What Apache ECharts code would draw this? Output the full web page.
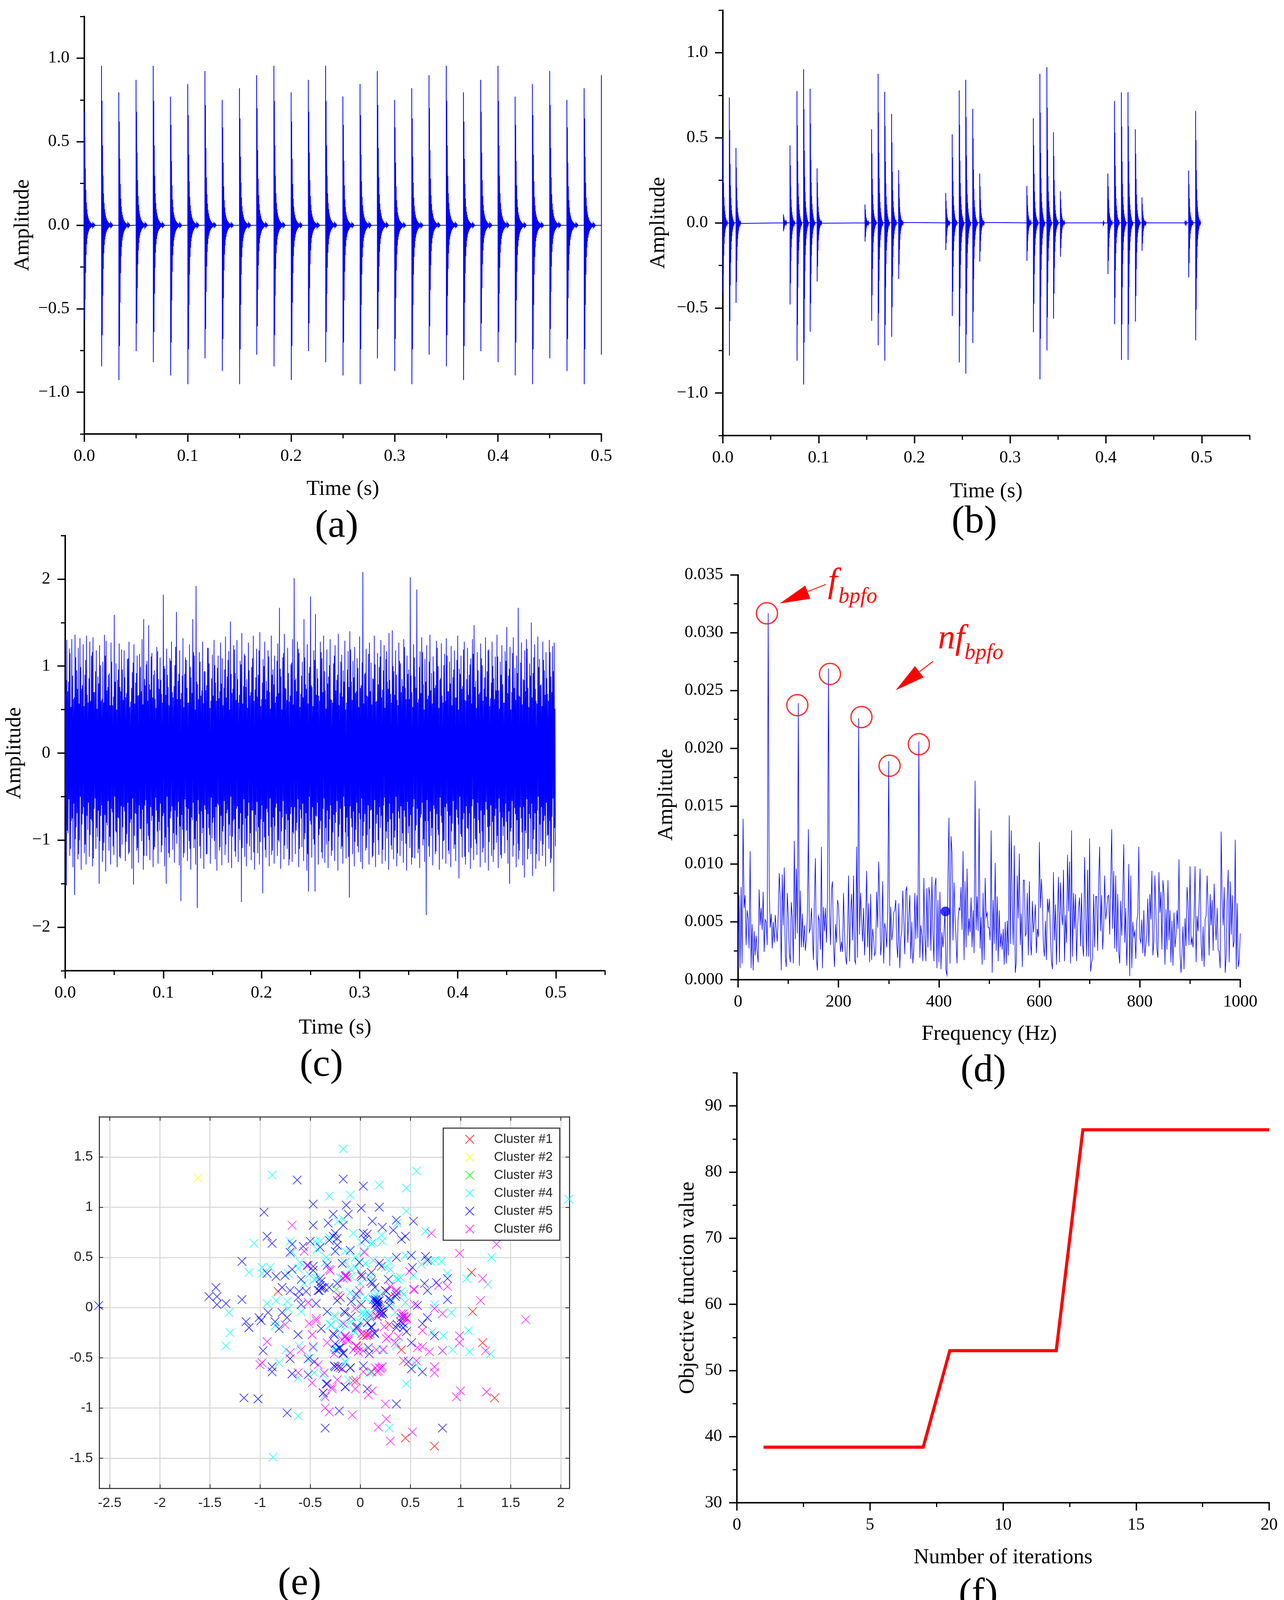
<!DOCTYPE html>
<html><head><meta charset="utf-8">
<style>html,body{margin:0;padding:0;background:#fff}#c{width:3288px;height:4150px}</style>
<script src="https://cdn.jsdelivr.net/npm/echarts@6/dist/echarts.min.js"></script>
</head><body><div id="c"></div>
<script>
// ---------- panel (a): impulses ----------
const aPulseTimes=[0,.0166,.0333,.05,.0666,.0833,.1,.1166,.1333,.15,.1666,.1833,.2,.2166,.2333,.25,.2666,.2833,.3,.3166,.3333,.35,.3666,.3833,.4,.4166,.4333,.45,.4666,.4833,.5];
const aPeakTop=[.68,.954,.795,.87,.954,.77,.845,.923,.75,.82,.898,.954,.795,.87,.954,.77,.845,.923,.75,.82,.898,.954,.795,.87,.954,.77,.845,.923,.75,.82,.898];
const aPeakBottom=[-.57,-.845,-.927,-.754,-.82,-.9,-.952,-.797,-.873,-.952,-.775,-.845,-.927,-.754,-.82,-.9,-.952,-.797,-.873,-.952,-.775,-.845,-.927,-.754,-.82,-.9,-.952,-.797,-.873,-.952,-.775];
const aEnvelope=[1,.78,.5,.31,.2,.14,.1,.078,.06,.047,.037,.03,.024,.019,.015,.012,.01,.008,.006,.005,.004,.003,.002,.001];
// ---------- panel (b) ----------
const bPulseTimes=[0,.0068,.0137,.0633,.0701,.0774,.0843,.0911,.0984,.1484,.1553,.1621,.169,.1762,.1835,.2327,.2395,.2468,.2536,.2609,.2682,.3174,.3242,.331,.3383,.3452,.3524,.397,.402,.4089,.4161,.423,.4307,.4376,.4825,.4863,.4936];
const bPeakTop=[.5,.737,.44,.05,.455,.774,.903,.788,.32,.108,.55,.876,.77,.64,.31,.176,.52,.778,.84,.67,.29,.217,.614,.876,.915,.532,.186,.006,.29,.716,.766,.768,.55,.15,.012,.307,.657];
const bPeakBottom=[-.41,-.78,-.47,-.05,-.48,-.81,-.95,-.64,-.345,-.11,-.575,-.72,-.81,-.67,-.33,-.16,-.547,-.82,-.886,-.706,-.227,-.223,-.643,-.92,-.75,-.563,-.2,-.006,-.3,-.596,-.806,-.806,-.58,-.164,-.012,-.32,-.69];
const bEnvelope=[1,.74,.47,.3,.2,.14,.1,.07,.05,.035,.022,.013,.007,.002];
// ---------- panel (c): alternating upper / lower noise excursions, hundredths ----------
const cUpper=[68,130,82,115,131,62,136,95,121,132,74,125,90,135,58,128,112,133,70,118,88,124,60,105,136,129,76,92,127,55,
159,103,84,126,71,96,118,64,108,128,59,93,125,81,112,67,99,131,154,78,106,147,73,115,90,62,122,85,110,68,
182,97,120,76,109,128,64,101,162,83,118,69,132,91,107,58,125,87,154,112,192,79,116,66,128,94,72,121,103,60,
113,130,81,98,63,127,109,75,134,88,117,151,69,124,92,130,58,106,138,77,112,85,127,66,99,135,73,120,90,139,
62,108,128,83,118,70,135,96,112,65,126,167,88,110,137,74,121,59,102,131,201,86,128,115,68,105,154,79,125,92,
180,76,118,160,97,66,128,109,135,72,119,88,131,61,103,124,84,137,69,113,95,129,58,117,140,82,106,122,71,98,
134,78,208,91,120,65,127,104,86,135,59,115,99,130,73,124,108,82,138,68,141,94,118,61,127,103,85,131,75,112,
96,202,70,125,88,188,62,117,133,79,108,124,66,136,92,111,75,129,100,84,126,58,114,132,71,105,123,87,118,64,
135,97,112,77,128,60,121,90,109,131,147,83,116,68,126,101,74,133,94,119,63,128,86,111,136,72,105,124,58,117,
145,89,122,70,133,98,112,167,65,127,85,118,131,75,103,150,92,125,60,134,108,79,128,95,116,68,130,88,123,127];
const cLower=[152,92,118,78,131,163,85,122,100,134,70,115,128,88,119,76,130,64,110,96,150,72,125,103,136,83,112,128,68,117,
90,131,75,121,105,62,124,93,116,80,133,151,69,112,126,87,101,134,60,118,95,123,78,131,108,66,127,89,114,72,
130,150,85,120,67,111,126,94,73,129,170,88,115,62,124,101,134,77,109,128,178,70,121,92,133,65,116,86,127,98,
74,122,135,60,108,129,84,117,69,126,95,132,78,113,64,125,100,171,82,119,130,72,107,123,66,134,90,115,128,76,
161,97,120,68,130,85,112,127,63,118,102,133,74,122,88,110,129,70,125,93,116,80,131,65,108,124,92,135,159,78,
120,99,159,73,128,87,114,64,126,105,132,76,118,91,124,68,135,82,110,127,61,121,96,166,75,116,130,88,107,69,
125,133,79,112,94,128,66,120,103,131,71,117,86,127,60,124,98,134,76,111,122,89,130,67,118,101,126,73,135,92,
109,128,62,121,83,115,132,70,106,125,186,78,119,95,129,64,113,88,134,72,122,100,127,67,116,131,81,110,124,74,
144,93,120,69,128,86,114,133,61,123,99,117,77,131,90,109,126,65,135,84,118,125,72,103,132,68,121,95,115,79,
127,150,86,119,63,131,104,112,75,129,143,92,122,70,116,141,88,133,66,124,101,118,78,130,95,110,126,73,159,107];
const cInner=[62,89,53,110,75,58,99,69,116,50,82,62,105,72,57,94,78,121,52,86,66,101,60,112,71,80,55,96,64,107,
50,91,74,119,61,85,67,102,57,114,76,52,95,70,109,60,87,65,118,54,81,100,62,72,111,51,90,79,58,106,
69,97,50,115,75,61,92,66,104,56,84,71,120,53,89,64,110,74,57,99,78,54,107,67,86,60,116,70,94,51,
80,101,62,58,112,72,90,55,105,65,82,50,96,76,119,61,87,69,109,53,75,104,57,92,66,114,71,56,85,102,
60,79,111,64,95,52,117,74,84,58,100,67,90,55,106,70,77,122,62,91];
// ---------- panel (d): spectrum, one value per 2 Hz, in 1e-4 ----------
const dAmp=[10,73,10,80,14,139,62,73,30,60,
53,27,111,10,48,8,42,21,38,24,
15,78,47,62,43,76,24,52,50,30,
317,80,45,57,27,50,32,56,44,33,
57,92,72,8,91,47,97,21,11,75,
55,23,15,67,54,14,120,35,96,40,
239,12,77,28,57,28,47,25,35,56,
130,41,44,62,40,17,68,105,19,8,
55,51,26,115,10,63,42,62,32,70,
269,60,30,78,85,30,11,48,32,69,
64,43,24,33,24,75,40,20,13,40,
90,16,57,74,34,90,17,14,115,19,
226,39,75,52,33,62,21,50,94,28,
66,15,74,17,44,35,21,24,76,45,
102,71,21,33,85,14,49,43,28,60,
189,12,63,34,41,58,60,69,30,19,
66,10,36,41,77,50,22,77,80,32,
55,73,18,50,14,26,75,35,73,36,
206,19,47,38,16,88,36,16,79,28,
80,73,25,89,41,16,81,88,10,69,
15,76,9,41,28,41,59,8,4,92,
140,14,124,110,34,84,55,36,14,51,
62,60,80,43,111,17,85,28,96,38,
53,41,71,28,60,23,172,43,72,42,
148,27,54,13,75,17,88,54,58,45,
45,34,129,6,69,31,101,25,72,16,
60,28,40,26,44,13,50,14,51,21,
142,31,129,67,30,116,6,15,90,53,
109,30,57,11,86,86,38,40,75,21,
85,34,21,68,41,50,65,23,44,37,
119,62,87,67,30,20,51,17,70,58,
70,38,16,9,93,34,65,13,57,89,
15,84,57,47,95,16,56,32,108,59,
102,14,129,20,75,44,74,16,45,62,
71,29,75,30,20,106,60,20,95,20,
122,7,15,19,74,28,72,72,25,85,
115,42,73,26,44,90,52,60,72,73,
39,85,130,44,94,27,90,24,74,24,
14,68,38,73,117,32,62,12,45,100,
3,90,10,50,37,42,18,51,57,115,
36,32,52,23,60,20,30,39,70,29,
74,52,94,21,33,90,59,26,19,93,
58,76,26,86,75,13,61,26,86,34,
60,15,51,12,58,28,38,60,44,104,
24,6,23,46,9,53,29,80,66,30,
98,30,36,28,55,98,15,55,42,66,
96,32,16,46,11,52,55,90,62,21,
74,47,69,25,83,51,34,62,26,24,
10,128,69,47,80,6,20,70,95,15,
85,39,73,28,33,121,9,66,11,17,
40];
const dFreqStep=2;
const dCursor=[[413,.0059]];
const dCircles=[[57.5,.03167],[118,.02373],[183,.02643],[245.7,.0227],[301.7,.0185],[360,.02036]];
// tip, barb 1, barb 2, tail start, tail end (frequency, amplitude pairs)
const dArrows=[[82.9,.03252,133.7,.03407,143.9,.03292,137.6,.03353,175,.03417],
[314,.02502,352.3,.02711,369.4,.02614,361.6,.02664,388.4,.02752]];
// ---------- panel (e): clusters ----------
const cluster1=[[-.82,.16],[.21,.41],[1.11,.35],[1.12,-.04],[.29,-.17],[.03,-.28],[.06,-.28],[-.04,-.38],[.41,-.42],[1.22,-.35],[.11,-.64],[-.04,-.73],[-.37,-.85],[1.34,-.9],[.45,-1.3],[.74,-1.38]];
const cluster2=[[-1.62,1.29]];
const cluster3=[[-.24,.18]];
const cluster4=[[-.17,1.58],[.56,1.36],[-.88,1.32],[.19,1.22],[.46,1.19],[-.31,1.11],[-.1,1.12],[2.08,1.08],[.46,.96],[-.22,.86],[-.17,.88],[.37,.84],[.65,.76],[-.07,.74],[.21,.72],[.22,.66],[-.7,.66],[-1.06,.64],[.11,.64],[.01,.65],[-.31,.7],[-.4,.66],[-.43,.58],[-.15,.56],[.04,.56],[-.34,.5],[.45,.52],[1.31,.5],[-.68,.55],[-.05,.5],[.28,.47],[.13,.47],[.61,.43],[.7,.46],[.74,.47],[.81,.46],[-.98,.4],[-.9,.4],[-1.11,.35],[-.98,.34],[-.62,.39],[-.72,.34],[-.51,.33],[.87,.34],[.53,.32],[1.06,.29],[1.27,.23],[.38,.28],[0,.24],[-.56,.24],[-.09,.31],[.16,.14],[.41,.16],[-.46,.28],[-.93,.04],[-.84,.07],[-.73,.06],[-.72,-.01],[.74,.03],[.17,.09],[-.59,-.04],[.03,-.08],[-1.31,-.05],[.91,-.05],[-1.3,-.25],[-1.34,-.38],[-.26,-.08],[-.3,-.17],[-.15,-.17],[-.85,-.18],[.72,-.24],[.83,-.28],[1.08,-.23],[-.74,-.42],[-.61,-.38],[-.47,-.4],[-.25,-.42],[.22,-.42],[.36,-.38],[.82,-.43],[.92,-.42],[1.09,-.44],[1.3,-.46],[-.81,-.55],[-.15,-.54],[.12,-.64],[.56,-.57],[-.46,-.65],[-.62,-.7],[-.12,-.72],[.46,-.76],[-.36,-.88],[-.62,-1.08],[.29,-1.2],[-.87,-1.49],[-.05,.4],[.05,.44],[.3,.38],[.4,.3],[-.2,.3],[-.1,.15],[.05,.1],[.1,-.1],[-.2,-.25],[-.05,-.25],[.35,-.05],[.45,.05],
[-.45,.66],[.13,.65],[.36,.29],[.43,.13],[.145,.11],[.05,-.06],[.09,-.06],[-.25,-.09],[-.29,-.17],[-.2,-.17],[-.09,-.14],[-.06,-.23],[-.05,.09],[-.21,-.41],[-.27,-.41],[-.15,-.54],[.09,-.65],[-.37,-.67],[-.44,.29],[.0,-.15],[.25,.4],[-.35,.45],[-.15,.45],[.1,.3],[.3,.05],[-.5,-.5],[.02,-.05],[-.1,.38],[-.6,.45]];
const cluster5=[[-2.61,.02],[-1.44,.2],[-1.51,.11],[-1.43,.11],[-1.43,.03],[-1.34,.04],[-1.18,.46],[-1.18,.08],[-.96,.95],[-.93,.71],[-.88,.64],[-.63,1.27],[-.17,1.28],[.03,1.21],[-.47,1.03],[-.14,1.02],[.01,.99],[.19,1],[-.27,.93],[-.12,.93],[-.32,.84],[-.47,.82],[-.17,.82],[.12,.86],[.36,.87],[.53,.86],[.22,.8],[.33,.77],[.45,.71],[.41,.68],[.07,.73],[.03,.74],[.05,.68],[-.25,.74],[-.27,.71],[-.23,.69],[-.31,.67],[-.5,.66],[-.68,.63],[-.4,.6],[-.23,.62],[-.25,.56],[-.1,.57],[-.7,.55],[-.57,.61],[.36,.5],[.51,.52],[.65,.51],[.67,.47],[-.53,.42],[-.47,.41],[-.33,.42],[-.18,.44],[-.01,.45],[.19,.44],[.52,.4],[-.93,.34],[-.84,.31],[-.75,.32],[-.68,.38],[-.59,.28],[-.47,.37],[-.39,.26],[.01,.33],[.11,.35],[.28,.28],[.64,.24],[.76,.25],[.87,.29],[-.23,.24],[-.38,.2],[-.78,.2],[-.7,.17],[-.61,.16],[-.54,.16],[-.41,.17],[-.31,.2],[-.2,.1],[-.04,.13],[.12,.24],[.25,.17],[.67,.17],[.87,.08],[-.62,.1],[-.59,.03],[-.44,.04],[-.23,.07],[-.09,.06],[.01,.03],[.16,.05],[.17,.06],[.19,.07],[.15,.03],[.17,.01],[.2,-.05],[.22,-.04],[.19,-.06],[.28,.09],[.36,.13],[.57,.02],[-.33,-.04],[-.15,-.05],[-.92,-.05],[-1.01,-.1],[-.99,-.13],[-1.14,-.14],[-1.11,-.2],[-.85,-.14],[-.81,-.21],[-.78,-.05],[-.73,-.1],[-.62,-.27],[-.39,-.21],[-.26,-.27],[-.04,-.2],[.11,-.2],[.14,-.25],[.41,-.1],[.43,-.16],[.46,-.24],[.62,-.16],[.67,-.1],[.74,-.28],[.36,-.2],[-.25,-.36],[-.2,-.4],[-.17,-.46],[-.97,-.43],[-.7,-.51],[-.52,-.51],[-.46,-.54],[.09,-.46],[.48,-.54],[.51,-.61],[.62,-.64],[.51,-.35],[-.88,-.59],[-.88,-.64],[-.68,-.66],[-.52,-.67],[-.25,-.59],[-.18,-.61],[-.1,-.6],[.03,-.58],[-.34,-.76],[-.15,-.79],[.07,-.81],[-.37,-.85],[-1.16,-.9],[-1.02,-.91],[-.73,-1.05],[-.21,-1.03],[.36,-.96],[-.35,-1.2],[.82,-1.2],
[.015,.31],[.106,.26],[.145,.2],[.158,.07],[.171,.05],[.184,.02],[.21,-.04],[.23,-.06],[.13,.08],[.26,.16],[.3,.08],[.35,.11],[.29,.02],[-.03,-.19],[.07,-.15],[.11,-.19],[.145,-.26],[.08,-.4],[.4,-.14],[.43,-.2],[.37,-.17],[-.4,.29],[-.4,.22],[-.39,.19],[-.42,.17],[-.36,.2],[-.24,-.42],[-.16,-.04],[-.09,-.09],[-.27,-.26],[-.21,-.4],[-.17,-.45],[-.1,-.6],[-.22,-.59],[-.26,-.58],[-.33,-.76],[-.15,-.79],[.165,.04],[.175,.03],[.18,.06],[.2,-.02],[.215,-.07],[.15,.08]];
const cluster6=[[1.36,.63],[-.68,.82],[.71,.74],[.99,.54],[-.56,.56],[.04,.55],[-.52,.42],[-.3,.37],[-.15,.31],[-.14,.32],[-.17,.29],[.49,.36],[1.22,.29],[.87,.21],[.78,.22],[.54,.18],[.36,.17],[-.22,.12],[-.01,.17],[1.2,.07],[.54,.03],[-.52,.05],[-.05,-.01],[.74,-.01],[.82,-.06],[1.65,-.12],[.16,-.08],[.17,-.09],[.41,-.06],[.43,-.09],[.45,-.12],[.46,-.1],[-.44,-.13],[-.51,-.16],[-.75,-.17],[-.17,-.16],[.24,-.19],[.62,-.23],[.99,-.28],[-.48,-.27],[-.93,-.34],[.99,-.35],[-.14,-.31],[-.18,-.32],[.07,-.27],[.28,-.29],[.38,-.29],[-.33,-.35],[-.7,-.45],[-.59,-.42],[-.47,-.39],[-.02,-.4],[.03,-.43],[-.07,-.42],[.16,-.42],[.57,-.4],[.62,-.39],[.69,-.44],[.82,-.43],[1.25,-.43],[-.26,-.46],[.43,-.53],[.56,-.53],[-.42,-.57],[-1,-.57],[-.98,-.55],[-.2,-.6],[.03,-.64],[.17,-.64],[.2,-.61],[.22,-.59],[.74,-.59],[.74,-.65],[-.62,-.65],[-.36,-.65],[-.48,-.75],[-.07,-.73],[-.23,-.72],[-.05,-.81],[-.28,-.81],[.12,-.83],[.08,-.87],[1,-.83],[.96,-.89],[1.26,-.84],[-.35,-.89],[-.35,-1],[-.31,-1.04],[-.08,-1.07],[.25,-.96],[.26,-1.11],[.18,-1.19],[.52,-1.24],[.3,-1.33],[-.12,-.33],[-.15,-.28],[.1,-.08],[-.02,-.2],[.15,-.6],
[-.147,.31],[-.15,.32],[-.13,.3],[-.15,-.29],[-.12,-.31],[-.04,-.39],[-.02,-.44],[.08,-.27],[.1,-.26],[.44,-.09],[.46,-.11],[.43,-.06],[.19,-.6],[.21,-.6],[.18,-.63],[.23,-.42],[.26,-.31],[.35,-.35],[.17,-.09],[.2,-.06],[-.28,-.79],[-.44,-.11],[-.31,.38],[.015,-.26],[.3,.21],[.36,.16],[.53,.18]];
const clusterNames=['Cluster #1','Cluster #2','Cluster #3','Cluster #4','Cluster #5','Cluster #6'];
const eXTicks=[-2.5,-2,-1.5,-1,-.5,0,.5,1,1.5,2];
const eYTicks=[-1.5,-1,-.5,0,.5,1,1.5];
// ---------- panel (f) ----------
const fIterations=[1,2,3,4,5,6,7,8,9,10,11,12,13,14,15,16,17,18,19,20];
const fObjective=[38.4,38.4,38.4,38.4,38.4,38.4,38.4,53,53,53,53,53,86.4,86.4,86.4,86.4,86.4,86.4,86.4,86.4];
// ---------- tick lists ----------
const timeTicks=[0,.1,.2,.3,.4,.5], timeMinorA=[.05,.15,.25,.35,.45], timeMinorB=[.05,.15,.25,.35,.45,.55];
const ampTicks=[-1,-.5,0,.5,1], ampMinor=[-1.25,-.75,-.25,.25,.75,1.25];
const cTicks=[-2,-1,0,1,2], cMinor=[-2.5,-1.5,-.5,.5,1.5,2.5];
const dXTicks=[0,200,400,600,800,1000], dXMinor=[100,300,500,700,900];
const dYTicks=[0,.005,.01,.015,.02,.025,.03,.035], dYMinor=[.0025,.0075,.0125,.0175,.0225,.0275,.0325];
const fXTicks=[0,5,10,15,20], fXMinor=[2.5,7.5,12.5,17.5];
const fYTicks=[30,40,50,60,70,80,90], fYMinor=[35,45,55,65,75,85,95];

const SERIF='"Liberation Serif"', SANS='"Liberation Sans"';
const grid=[],xAxis=[],yAxis=[],series=[];
const minus=s=>String(s).replace('-','\u2212');
function originPanel(p){
  const g=grid.length;
  grid.push({left:p.l,top:p.t,width:p.r-p.l,height:p.b-p.t,containLabel:false});
  const ax=(vals,minor,min,max,fmt,name,gap,pos,margin,nameFont)=>{
    const common={gridIndex:g,type:'value',min,max,position:pos,splitLine:{show:false},silent:true,
      axisLine:{show:true,onZero:false,lineStyle:{color:'#000',width:3.5}}};
    return [Object.assign({},common,{
      axisTick:{show:true,length:20,customValues:vals,lineStyle:{color:'#000',width:3.5}},
      axisLabel:{show:true,customValues:vals,margin,formatter:fmt,color:'#000',fontFamily:SERIF,fontSize:44},
      name:name||'',nameLocation:'middle',nameGap:gap,nameMoveOverlap:false,nameTextStyle:{fontFamily:SERIF,fontSize:nameFont,color:'#000'}}),
     Object.assign({},common,{
      axisTick:{show:true,length:11,customValues:minor,lineStyle:{color:'#000',width:3}},
      axisLabel:{show:false}})];
  };
  const xi=xAxis.length, yi=yAxis.length;
  xAxis.push(...ax(p.xt,p.xm,p.xr[0],p.xr[1],p.xf,p.xn,p.xg,'bottom',35,55));
  yAxis.push(...ax(p.yt,p.ym,p.yr[0],p.yr[1],p.yf,p.yn,p.yg,'left',38,55));
  return {xAxisIndex:xi,yAxisIndex:yi};
}
const f1=v=>minus(v.toFixed(1)), f0=v=>minus(String(v));
function pulseTrain(times,top,bottom,env,dt){
  const pts=[];
  times.forEach((t,k)=>{
    pts.push([t,0]);
    env.forEach((e,i)=>{
      const up=t+i*dt, dn=i===0?t+dt/4:t+(i+.5)*dt;
      if(up<=.5) pts.push([up,top[k]*e]);
      if(dn<=.5) pts.push([dn,bottom[k]*e]); else if(i===0) pts.push([.5,bottom[k]*e]);
    });
    const end=t+env.length*dt;
    if(end<=.5) pts.push([end,0]);
  });
  return pts;
}
const lineS=(ids,data,w,c)=>Object.assign({type:'line',data,symbol:'none',showSymbol:false,silent:true,animation:false,clip:false,
  lineStyle:{color:c||'#0000ff',width:w,join:'miter'}},ids);

// (a)
let ids=originPanel({l:216,t:42,r:1540,b:1111,xr:[0,.5],yr:[-1.25,1.25],xt:timeTicks,xm:timeMinorA,yt:ampTicks,ym:ampMinor,xf:f1,yf:f1,xn:'Time (s)',xg:114,yn:'Amplitude',yg:130});
series.push(lineS(ids,pulseTrain(aPulseTimes,aPeakTop,aPeakBottom,aEnvelope,.0005),2));
// (b)
ids=originPanel({l:1851,t:26,r:3200,b:1115,xr:[0,.55],yr:[-1.25,1.25],xt:timeTicks,xm:timeMinorB,yt:ampTicks,ym:ampMinor,xf:f1,yf:f1,xn:'Time (s)',xg:116,yn:'Amplitude',yg:137});
series.push(lineS(ids,pulseTrain(bPulseTimes,bPeakTop,bPeakBottom,bEnvelope,.0004),2));
// (c)
ids=originPanel({l:167,t:1371,r:1549,b:2485,xr:[0,.55],yr:[-2.5,2.5],xt:timeTicks,xm:timeMinorB,yt:cTicks,ym:cMinor,xf:f1,yf:f0,xn:'Time (s)',xg:119,yn:'Amplitude',yg:102});
const cTrace=[], cStep=.5/cUpper.length, cN=cInner.length;
cUpper.forEach((u,i)=>{
  const t=i*cStep;
  cTrace.push([t,u/100]);
  cTrace.push([t+cStep/4,-cInner[i%cN]/100]);
  cTrace.push([t+cStep/2,cInner[(i+70)%cN]/100]);
  cTrace.push([t+cStep*3/4,-(cLower[i]||80)/100]);
});
series.push(lineS(ids,cTrace,1.7));
// (d)
ids=originPanel({l:1890,t:1471.5,r:3176,b:2508,xr:[0,1000],yr:[0,.035],xt:dXTicks,xm:dXMinor,yt:dYTicks,ym:dYMinor,xf:f0,yf:v=>v.toFixed(3),xn:'Frequency (Hz)',xg:112});
series.push(lineS(ids,dAmp.map((v,i)=>[i*dFreqStep,v/10000]),1.5));
series.push(Object.assign({type:'scatter',data:dCursor,symbol:'circle',symbolSize:25,itemStyle:{color:'#0000ff'},silent:true,animation:false},ids));
series.push(Object.assign({type:'scatter',data:dCircles,symbol:'circle',symbolSize:54,itemStyle:{color:'transparent',borderColor:'#ff0000',borderWidth:3.5},silent:true,animation:false,z:5},ids));
series.push(Object.assign({type:'custom',data:dArrows,encode:{x:0,y:1},silent:true,animation:false,z:5,clip:false,
  renderItem(params,api){
    const P=i=>api.coord([api.value(i),api.value(i+1)]);
    const tip=P(0),a=P(2),b=P(4),s=P(6),e=P(8);
    return {type:'group',children:[
      {type:'polygon',shape:{points:[tip,a,b]},style:{fill:'#ff0000'}},
      {type:'line',shape:{x1:s[0],y1:s[1],x2:e[0],y2:e[1]},style:{stroke:'#ff0000',lineWidth:2.2}}]};
  }},ids));
// (e)
const eIdx={g:grid.length,x:xAxis.length,y:yAxis.length};
grid.push({left:254,top:2859,width:1204,height:951,containLabel:false});
const eAxisBase=(min,max,vals,pos,main)=>({gridIndex:eIdx.g,type:'value',min,max,position:pos,silent:true,
  axisLine:{show:true,onZero:false,lineStyle:{color:'#262626',width:2.6}},
  axisTick:{show:true,inside:true,length:10,customValues:vals,lineStyle:{color:'#262626',width:2}},
  axisLabel:{show:main,customValues:vals,margin:pos==='bottom'?21:16,formatter:v=>String(v),color:'#262626',fontFamily:SANS,fontSize:35},
  splitLine:{show:main,lineStyle:{color:'#dcdcdc',width:3}}});
xAxis.push(eAxisBase(-2.605,2.086,eXTicks,'bottom',true),eAxisBase(-2.605,2.086,eXTicks,'top',false));
yAxis.push(eAxisBase(-1.8,1.9,eYTicks,'left',true),eAxisBase(-1.8,1.9,eYTicks,'right',false));
const X='path://M0 0L100 100M100 0L0 100';
[[cluster1,'#ff0000'],[cluster2,'#ffff00'],[cluster3,'#00ff00'],[cluster4,'#00ffff'],[cluster5,'#0000ff'],[cluster6,'#ff00ff']].forEach(([d,c],i)=>{
  series.push({type:'scatter',name:clusterNames[i],data:d,xAxisIndex:eIdx.x,yAxisIndex:eIdx.y,symbol:X,symbolSize:22,clip:false,silent:true,animation:false,
    itemStyle:{color:'transparent',borderColor:c,borderWidth:1.8}});
});
// (f)
ids=originPanel({l:1887,t:2746.6,r:3250,b:3847,xr:[0,20],yr:[30,95],xt:fXTicks,xm:fXMinor,yt:fYTicks,ym:fYMinor,xf:f0,yf:f0,xn:'Number of iterations',xg:113,yn:'Objective function value',yg:98});
series.push(lineS(ids,fIterations.map((x,i)=>[x,fObjective[i]]),8,'#ff0000'));

const txt=(s,x,y,font,opt)=>Object.assign({type:'text',x,y,silent:true,z:20,
  style:Object.assign({text:s,font,fill:'#000',textAlign:'center',textVerticalAlign:'middle'},opt&&opt.style)},opt&&opt.el);
const panel=(s,x,y)=>txt(s,x,y,'100px '+SERIF);
const red=(s,x,y,size)=>txt(s,x,y,'italic '+size+'px '+SERIF,{style:{fill:'#ff0000',textAlign:'left'}});
const graphic=[panel('(a)',862,1348),panel('(b)',2495,1337),panel('(c)',823,2728),panel('(d)',2518,2742),panel('(e)',767,4055),panel('(f)',2505,4083),
  txt('Amplitude',1707,2034.5,'55px '+SERIF,{el:{rotation:Math.PI/2}}),
  red('f',2120,1492,88),red('bpfo',2147,1528,56),red('nf',2402,1637,88),red('bpfo',2470,1672,56)];

const chart=echarts.init(document.getElementById('c'),null,{renderer:'canvas',width:3288,height:4150});
chart.setOption({animation:false,backgroundColor:'#fff',grid,xAxis,yAxis,series,graphic,tooltip:{show:false},
  legend:{show:true,data:clusterNames,orient:'vertical',left:1135,top:2888,padding:[12,18,12,56],itemWidth:114,itemHeight:22,itemGap:13,
    symbolKeepAspect:true,backgroundColor:'#fff',borderColor:'#262626',borderWidth:2.6,selectedMode:false,
    textStyle:{fontFamily:SANS,fontSize:33,color:'#262626'},z:10}});
</script></body></html>
